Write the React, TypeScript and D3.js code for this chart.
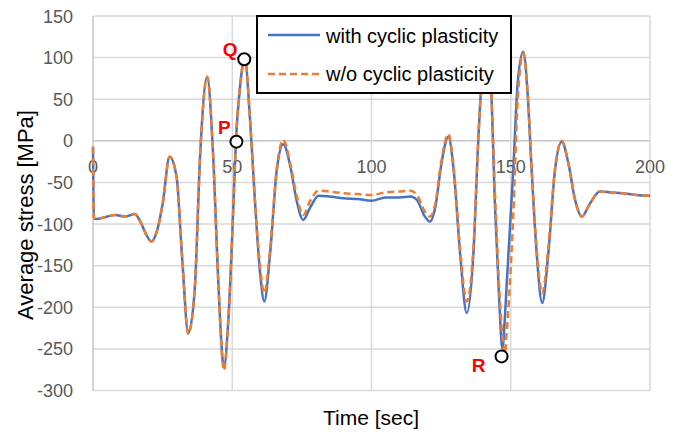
import * as d3 from 'd3';

const times = [
  0, 0.3, 1.3, 4, 8, 11.5, 15, 17, 19, 21, 23, 25, 27.5, 30, 32, 34.2, 36.5, 38.5, 41, 43, 45,
  46.6, 47, 48.6, 50.4, 51.3, 52.8, 54.5, 56.4, 58.2, 60, 61.5, 63.6, 66, 68.3, 71, 73, 75.5,
  78, 81, 85, 90, 95, 100, 105, 110, 114, 116.5, 119, 121, 123, 125, 127.6, 129.5, 131.8, 134.2,
  136.6, 138.4, 139.8, 141.1, 142.9, 144.3, 145.9, 147, 147.9, 148.5, 150.9, 152.5, 154.5, 156,
  157.5, 159.3, 161.3, 163.5, 165.9, 168.3, 170.7, 173.1, 175.5, 178.5, 182, 186, 190, 195, 200,
];

const withCyclic = [
  -7, -93, -94, -92, -89, -91, -88, -97, -112, -121, -108, -76, -19, -43, -140, -231, -180, -15, 77, -8, -170,
  -265, -272, -215, -79, -1, 65, 99, 25, -75, -159, -193, -135, -35, -4, -33, -70, -95,
  -80, -66, -67, -69, -70, -72, -68, -68, -67, -72, -90, -97, -78, -30, 5, -35, -135, -207,
  -135, 5, 85, 113, 65, -75, -195, -250, -212, -175, -35, 70, 107, 60,
  -35, -135, -195, -135, -35, -1, -27, -71, -91, -75, -61, -62, -63, -65, -66,
];

const withoutCyclic = [
  -7, -93, -94, -92, -89, -91, -88, -97, -112, -121, -108, -76, -19, -43, -140, -232, -180, -15, 77, -8, -170,
  -268, -276, -215, -79, -1, 65, 99, 25, -75, -152, -183, -130, -33, 1, -30, -64, -89,
  -72, -60, -61, -63, -64, -65, -62, -61, -60, -66, -84, -91, -74, -26, 8, -33, -130, -193,
  -128, 6, 86, 114, 65, -60, -180, -235, -256, -232, -90, 50, 105, 60,
  -33, -130, -183, -128, -33, 0, -27, -71, -91, -75, -61, -62, -63, -65, -66,
];

const xTicks = [0, 50, 100, 150, 200];
const yTicks = [150, 100, 50, 0, -50, -100, -150, -200, -250, -300];

const markLabels = ['P', 'Q', 'R'];
const markTimes = [51.5, 54.3, 146.7];
const markValues = [-1, 98, -259];
const markLabelOffsets = [[-12, -8], [-14, -3], [-23, 16]];

const seriesNames = ['with cyclic plasticity', 'w/o cyclic plasticity'];

const W = 684;
const H = 437;
const FONT = '"Liberation Sans", Arial, sans-serif';

export default function App() {
  const x = d3.scaleLinear().domain([0, 200]).range([93, 650]);
  const y = d3.scaleLinear().domain([-300, 150]).range([390.5, 16]);

  const line = (vals: number[]) =>
    d3.line<number>()
      .x((_, i) => x(times[i]))
      .y(d => y(d))
      .curve(d3.curveMonotoneX)(vals) || '';

  return (
    <svg width={W} height={H} style={{ position: 'absolute', left: 0, top: 0, background: '#fff' }} fontFamily={FONT}>
      {/* grid */}
      {yTicks.map(t => (
        <line key={'gy' + t} x1={x(0)} x2={x(200)} y1={y(t)} y2={y(t)}
          stroke={t === 0 ? '#c6c6c6' : '#d9d9d9'} strokeWidth={1.5} />
      ))}
      {xTicks.map(t => (
        <line key={'gx' + t} x1={x(t)} x2={x(t)} y1={y(150)} y2={y(-300)}
          stroke={t === 0 ? '#c6c6c6' : '#d9d9d9'} strokeWidth={1.5} />
      ))}

      {/* tick labels */}
      {yTicks.map(t => (
        <text key={'ty' + t} x={73} y={y(t) + 6.5} textAnchor="end" fontSize={18} fill="#595959">{t}</text>
      ))}
      {xTicks.map(t => (
        <text key={'tx' + t} x={x(t)} y={y(0) + 32.5} textAnchor="middle" fontSize={18} fill="#595959">{t}</text>
      ))}

      {/* series */}
      <path d={line(withCyclic)} fill="none" stroke="#4472C4" strokeWidth={2.5} strokeLinejoin="round" />
      <path d={line(withoutCyclic)} fill="none" stroke="#ED7D31" strokeWidth={2.5} strokeDasharray="7,4" />

      {/* markers */}
      {markLabels.map((m, i) => (
        <g key={m}>
          <circle cx={x(markTimes[i])} cy={y(markValues[i])} r={6} fill="#fff" stroke="#000" strokeWidth={2} />
          <text x={x(markTimes[i]) + markLabelOffsets[i][0]} y={y(markValues[i]) + markLabelOffsets[i][1]}
            textAnchor="middle" fontSize={19} fontWeight="bold" fill="#ff0000">{m}</text>
        </g>
      ))}

      {/* legend */}
      <rect x={257} y={16} width={254} height={77} fill="#fff" stroke="#000" strokeWidth={2} />
      <line x1={268} x2={320} y1={35} y2={35} stroke="#4472C4" strokeWidth={2.5} />
      <line x1={268} x2={320} y1={74} y2={74} stroke="#ED7D31" strokeWidth={2.5} strokeDasharray="7,4" />
      <text x={326} y={43} fontSize={20} fill="#000">{seriesNames[0]}</text>
      <text x={326} y={81} fontSize={20} fill="#000">{seriesNames[1]}</text>

      {/* axis titles */}
      <text x={371} y={425} textAnchor="middle" fontSize={21} fill="#000">Time [sec]</text>
      <text transform="translate(33,215) rotate(-90)" textAnchor="middle" fontSize={22} fill="#000">Average stress [MPa]</text>
    </svg>
  );
}
